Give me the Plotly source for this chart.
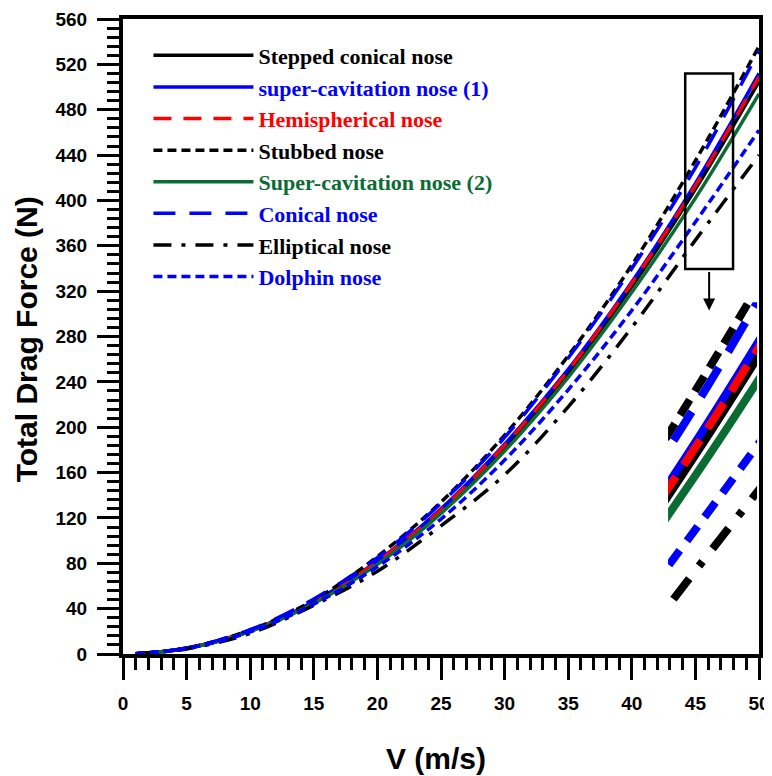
import plotly.graph_objects as go

V = [1, 5, 10, 15, 20, 25, 30, 35, 40, 45, 50]
stepped = [0.2, 5.0, 20.2, 45.5, 81, 126, 182, 248, 324, 410, 505]
sc1 = [0.2, 5.1, 20.5, 46.2, 82, 128, 185, 251, 328, 415, 512]
hemi = [0.2, 5.1, 20.4, 45.8, 81.5, 127, 184, 250, 327, 413, 509]
stubbed = [0.2, 5.3, 21.2, 47.5, 86, 134, 193, 263, 343, 435, 536]
sc2 = [0.2, 4.9, 19.8, 44.5, 79, 124, 179, 244, 319, 402, 494]
conical = [0.2, 5.3, 21.4, 48.5, 85, 133, 191, 261, 340, 429, 532]
elliptical = [0.2, 4.5, 18.2, 43, 73, 113, 158, 218, 288, 365, 440]
dolphin = [0.2, 4.8, 19.5, 44, 77, 119, 171, 233, 303, 381, 462]

names = ["Stepped conical nose", "super-cavitation nose (1)", "Hemispherical nose",
         "Stubbed nose", "Super-cavitation nose (2)", "Conical nose",
         "Elliptical nose", "Dolphin nose"]
series = [stepped, sc1, hemi, stubbed, sc2, conical, elliptical, dolphin]
colors = ["#000000", "#0000ff", "#ff0000", "#000000", "#0b6b34", "#0000ff", "#000000", "#0000ff"]
dashes = ["solid", "solid", "18px,12px", "9px,5px", "solid", "22px,14px", "18px,10px,4px,10px", "9px,5px"]
dashes_big = ["solid", "solid", "30px,14px", "18px,10px", "solid", "34px,18px", "26px,16px,6px,16px", "18px,12px"]

# zoom rectangle drawn on the main plot
rect_x = [44.2, 47.96]
rect_y = [339.5, 512]
# magnified view shown in the inset
inset_x = [44.0, 46.9]
inset_y = [347, 467]

fig = go.Figure()
for nm, s, c, d in zip(names, series, colors, dashes):
    fig.add_trace(go.Scatter(
        x=V, y=s, mode="lines", line=dict(color=c, width=3.5, dash=d, shape="spline"),
        name=f"<span style='color:{c}'>{nm}</span>", legendgroup=nm,
        xaxis="x", yaxis="y"))
for nm, s, c, d in zip(names, series, colors, dashes_big):
    fig.add_trace(go.Scatter(
        x=V, y=s, mode="lines", line=dict(color=c, width=8, dash=d, shape="spline"),
        showlegend=False, xaxis="x2", yaxis="y2", hoverinfo="skip"))

tickfont = dict(family="Liberation Sans, Arial", size=19, color="black", weight="bold")
axcommon = dict(showline=True, linecolor="black", linewidth=4, mirror=True,
                ticks="outside", ticklen=22, tickwidth=3, tickcolor="black",
                showgrid=False, zeroline=False, tickfont=tickfont, automargin=False)
titlefont = dict(family="Liberation Sans, Arial", size=30, color="black", weight="bold")

fig.update_layout(
    width=764, height=768,
    margin=dict(l=115, r=13, t=11, b=122),
    paper_bgcolor="white", plot_bgcolor="white",
    xaxis=dict(range=[0, 50], dtick=5, tick0=0, domain=[0, 1], ticklabelstandoff=7,
               minor=dict(dtick=1, ticks="outside", ticklen=12, tickwidth=2.5, tickcolor="black"),
               **axcommon),
    yaxis=dict(range=[0, 560], dtick=40, tick0=0, domain=[0, 1], ticklabelstandoff=6,
               minor=dict(dtick=8, ticks="outside", ticklen=12, tickwidth=2.5, tickcolor="black"),
               **axcommon),
    xaxis2=dict(range=inset_x, domain=[0.857, 0.997], anchor="y2", visible=False, fixedrange=True),
    yaxis2=dict(range=inset_y, domain=[0.0646, 0.554], anchor="x2", visible=False, fixedrange=True),
    legend=dict(x=0.04, y=0.9755, xanchor="left", yanchor="top", bgcolor="rgba(0,0,0,0)",
                font=dict(family="Liberation Serif, Times New Roman", size=22, color="black", weight="bold"),
                itemwidth=100, traceorder="normal"),
    showlegend=True,
)

# axis titles
fig.add_annotation(text="V (m/s)", xref="paper", yref="paper", x=0.492, y=-0.135,
                   xanchor="center", yanchor="top", showarrow=False, font=titlefont)
fig.add_annotation(text="Total Drag Force (N)", xref="paper", yref="paper", x=-0.152, y=0.496,
                   xanchor="center", yanchor="middle", textangle=-90, showarrow=False,
                   font=titlefont)

fig.add_shape(type="rect", xref="x", yref="y", x0=rect_x[0], x1=rect_x[1], y0=rect_y[0], y1=rect_y[1],
              line=dict(color="black", width=2.5))
fig.add_annotation(x=(rect_x[0] + rect_x[1]) / 2, y=303, xref="x", yref="y",
                   ax=0, ay=-40, showarrow=True, arrowhead=2, arrowsize=1.2, arrowwidth=2,
                   arrowcolor="black", text="")

fig.write_html("out.html")
